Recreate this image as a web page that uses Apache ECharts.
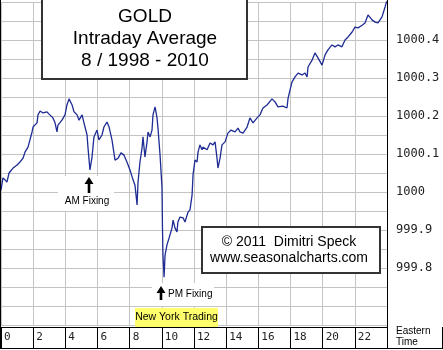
<!DOCTYPE html>
<html>
<head>
<meta charset="utf-8">
<script src="https://cdn.jsdelivr.net/npm/echarts@6/dist/echarts.min.js"></script>
<style>
  html, body { margin: 0; padding: 0; background: #fff; }
  #chart { width: 443px; height: 350px; }
</style>
</head>
<body>
<div id="chart"></div>
<script>
// Eastern time of day (hours) and the average gold price index at that time
const hours = [
  0,0.12,0.25,0.37,0.5,0.75,1.0,1.18,1.37,1.49,
  1.68,1.93,1.99,2.24,2.3,2.43,2.61,2.86,2.99,3.23,
  3.36,3.48,3.54,3.79,3.98,4.1,4.23,4.42,4.54,4.73,
  4.85,5.04,5.16,5.35,5.41,5.53,5.66,5.78,5.97,6.09,
  6.28,6.4,6.59,6.72,6.9,7.09,7.28,7.46,7.65,7.83,
  8.02,8.21,8.33,8.46,8.52,8.64,8.77,8.83,8.95,9.08,
  9.14,9.27,9.39,9.45,9.58,9.7,9.76,9.89,10.01,10.04,
  10.07,10.14,10.2,10.32,10.45,10.63,10.7,10.82,10.94,11.0,
  11.13,11.32,11.44,11.57,11.63,11.75,11.88,11.94,12.06,12.19,
  12.25,12.37,12.5,12.56,12.81,13.0,13.18,13.31,13.43,13.49,
  13.62,13.74,13.93,14.11,14.3,14.55,14.74,14.86,15.05,15.3,
  15.48,15.67,15.92,16.1,16.29,16.54,16.85,17.04,17.22,17.53,
  17.78,17.85,18.09,18.28,18.47,18.72,18.9,19.03,19.09,19.34,
  19.52,19.71,19.96,20.15,20.33,20.58,20.77,20.95,21.2,21.39,
  21.58,21.83,22.01,22.2,22.45,22.63,22.82,23.07,23.26,23.44,
  23.69,23.88,24.0
];
const goldAverage = [
  1000.005,1000.037,1000.032,1000.026,1000.050,1000.063,1000.071,1000.079,1000.089,1000.105,
  1000.118,1000.158,1000.171,1000.182,1000.203,1000.213,1000.208,1000.211,1000.205,1000.195,
  1000.182,1000.158,1000.176,1000.189,1000.203,1000.229,1000.245,1000.229,1000.211,1000.203,
  1000.189,1000.203,1000.182,1000.150,1000.116,1000.058,1000.092,1000.145,1000.163,1000.137,
  1000.150,1000.171,1000.184,1000.171,1000.137,1000.084,1000.089,1000.103,1000.097,1000.079,
  1000.058,1000.032,1000.018,999.966,1000.026,1000.079,1000.116,1000.145,1000.092,1000.132,
  1000.158,1000.145,1000.163,1000.203,1000.224,1000.195,1000.168,1000.097,1000.011,999.905,
  999.834,999.776,999.834,999.861,999.879,999.905,999.926,999.905,999.895,999.921,
  999.934,999.932,999.921,999.939,999.947,999.953,999.992,1000.045,1000.084,1000.079,
  1000.105,1000.124,1000.111,1000.118,1000.111,1000.129,1000.124,1000.132,1000.089,1000.063,
  1000.089,1000.124,1000.132,1000.155,1000.163,1000.158,1000.168,1000.158,1000.155,1000.171,
  1000.195,1000.182,1000.195,1000.203,1000.221,1000.229,1000.245,1000.237,1000.224,1000.226,
  1000.221,1000.247,1000.289,1000.303,1000.313,1000.308,1000.313,1000.303,1000.329,1000.347,
  1000.366,1000.353,1000.334,1000.361,1000.374,1000.387,1000.382,1000.387,1000.382,1000.400,
  1000.408,1000.421,1000.434,1000.432,1000.439,1000.445,1000.466,1000.453,1000.447,1000.445,
  1000.461,1000.487,1000.505
];
// Axis tick labels
const hourLabels = ['0','2','4','6','8','10','12','14','16','18','20','22'];
const priceLabels = ['1000.4','1000.3','1000.2','1000.1','1000','999.9','999.8'];

const series = hours.map((h, i) => [h, goldAverage[i]]);
const mono = '"DejaVu Sans Mono", "Liberation Mono", monospace';
const sans = '"Liberation Sans", Arial, sans-serif';
const gridColor = '#c4c4c4';

const chart = echarts.init(document.getElementById('chart'), null, { renderer: 'canvas' });

function upArrow(x, tipY, bottomY) {
  return {
    type: 'polygon', z: 20,
    shape: { points: [
      [x, tipY], [x + 4.5, tipY + 7], [x + 1.3, tipY + 7], [x + 1.3, bottomY],
      [x - 1.3, bottomY], [x - 1.3, tipY + 7], [x - 4.5, tipY + 7]
    ] },
    style: { fill: '#000' }
  };
}

chart.setOption({
  animation: false,
  backgroundColor: '#fff',
  grid: { left: 1, top: 2, width: 386, height: 323, containLabel: false },
  xAxis: {
    type: 'value', min: 0, max: 24, interval: 2, offset: 2,
    axisLine: { show: true, lineStyle: { color: '#000', width: 1 } },
    axisTick: { show: true, length: 21, lineStyle: { color: '#000', width: 1 } },
    axisLabel: {
      show: true, align: 'left', margin: 5, padding: [0, 0, 0, 3],
      fontFamily: mono, fontSize: 11, color: '#222',
      formatter: v => { const s = String(Math.round(v)); return hourLabels.includes(s) ? s : ''; }
    },
    splitLine: { show: true, lineStyle: { color: gridColor, width: 1 } }
  },
  yAxis: {
    type: 'value', position: 'right', min: 999.65, max: 1000.5, interval: 0.05,
    axisLine: { show: false }, axisTick: { show: false },
    axisLabel: {
      show: true, align: 'left', margin: 9,
      fontFamily: mono, fontSize: 12, color: '#222',
      formatter: v => {
        const hit = priceLabels.find(l => Math.abs(Number(l) - v) < 1e-6);
        return hit || '';
      }
    },
    splitLine: { show: true, lineStyle: { color: gridColor, width: 1 } }
  },
  series: [{
    type: 'line', data: series, symbol: 'none', clip: true,
    lineStyle: { color: '#1e2c94', width: 1.3 }, z: 5
  }],
  graphic: [
    // frame lines
    { type: 'line', z: 15, shape: { x1: 0.5, y1: 0, x2: 0.5, y2: 349 }, style: { stroke: '#000', lineWidth: 1 } },
    { type: 'line', z: 15, shape: { x1: 387.5, y1: 0, x2: 387.5, y2: 349 }, style: { stroke: '#000', lineWidth: 1 } },
    { type: 'line', z: 15, shape: { x1: 0, y1: 348.5, x2: 443, y2: 348.5 }, style: { stroke: '#000', lineWidth: 1 } },
    { type: 'line', z: 15, shape: { x1: 442.5, y1: 327, x2: 442.5, y2: 349 }, style: { stroke: '#000', lineWidth: 1 } },
    // title box
    { type: 'rect', z: 10, shape: { x: 42, y: -3, width: 205, height: 82 },
      style: { fill: '#fff', stroke: '#333', lineWidth: 2 } },
    { type: 'text', z: 11, style: { text: 'GOLD', x: 145, y: 17, align: 'center', verticalAlign: 'middle', font: '19px ' + sans, fill: '#000' } },
    { type: 'text', z: 11, style: { text: 'Intraday Average', x: 145, y: 39, align: 'center', verticalAlign: 'middle', font: '19px ' + sans, fill: '#000' } },
    { type: 'text', z: 11, style: { text: '8 / 1998 - 2010', x: 145, y: 61, align: 'center', verticalAlign: 'middle', font: '19px ' + sans, fill: '#000' } },
    // copyright box
    { type: 'rect', z: 10, shape: { x: 202, y: 227, width: 178, height: 46 },
      style: { fill: '#fff', stroke: '#333', lineWidth: 2 } },
    { type: 'text', z: 11, style: { text: '\u00a9 2011  Dimitri Speck', x: 289, y: 242, align: 'center', verticalAlign: 'middle', font: '14px ' + sans, fill: '#000' } },
    { type: 'text', z: 11, style: { text: 'www.seasonalcharts.com', x: 289, y: 258, align: 'center', verticalAlign: 'middle', font: '14px ' + sans, fill: '#000' } },
    // AM fixing marker
    { type: 'rect', z: 10, shape: { x: 58, y: 176, width: 56, height: 35 }, style: { fill: '#fff' } },
    upArrow(89, 177, 193),
    { type: 'text', z: 21, style: { text: 'AM Fixing', x: 87, y: 201, align: 'center', verticalAlign: 'middle', font: '10px ' + sans, fill: '#000' } },
    // PM fixing marker
    { type: 'rect', z: 10, shape: { x: 152, y: 283, width: 62, height: 23 }, style: { fill: '#fff' } },
    upArrow(161, 286, 300),
    { type: 'text', z: 21, style: { text: 'PM Fixing', x: 168, y: 294, align: 'left', verticalAlign: 'middle', font: '10px ' + sans, fill: '#000' } },
    // New York session label
    { type: 'rect', z: 10, shape: { x: 135, y: 308, width: 83, height: 19 }, style: { fill: '#ffff6e' } },
    { type: 'text', z: 11, style: { text: 'New York Trading', x: 176.5, y: 317.5, align: 'center', verticalAlign: 'middle', font: '10.5px ' + sans, fill: '#000' } },
    // time zone caption
    { type: 'text', z: 11, style: { text: 'Eastern', x: 396, y: 331, align: 'left', verticalAlign: 'middle', font: '10px ' + sans, fill: '#000' } },
    { type: 'text', z: 11, style: { text: 'Time', x: 396, y: 342, align: 'left', verticalAlign: 'middle', font: '10px ' + sans, fill: '#000' } }
  ]
});
</script>
</body>
</html>
